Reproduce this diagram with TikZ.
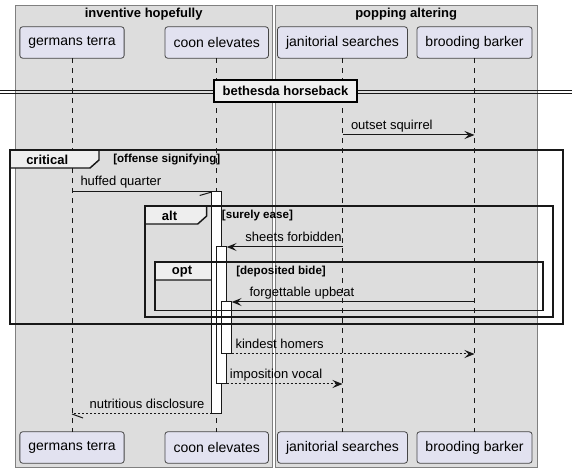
\documentclass[tikz,border=0pt]{standalone}
\usepackage{fontspec}
\setmainfont{Liberation Sans}
\usetikzlibrary{arrows.meta}
\definecolor{boxgray}{HTML}{DDDDDD}
\definecolor{partfill}{HTML}{E2E2F0}
\definecolor{tabfill}{HTML}{EEEEEE}
\definecolor{ink}{HTML}{181818}

\begin{document}
\begin{tikzpicture}[x=0.75pt, y=-0.75pt,
    grp/.style={draw=gray, fill=boxgray, line width=0.6pt},
    title/.style={inner sep=0pt, font=\bfseries\fontsize{9.75}{11}\selectfont},
    part/.style={draw=gray!55!black, fill=partfill, rounded corners=2pt, line width=0.6pt,
      minimum height=23.5pt, inner xsep=6.4pt, outer sep=0pt, font=\fontsize{10.5}{12}\selectfont},
    life/.style={draw=ink, line width=0.45pt, dash pattern=on 3.75pt off 3.75pt},
    msg/.style={draw=ink, line width=0.75pt},
    ret/.style={msg, dash pattern=on 1.5pt off 1.5pt},
    head/.style={-{Stealth[length=7.5pt, width=6pt, inset=3pt]}},
    act/.style={draw=ink, fill=white, line width=0.75pt, minimum width=7.5pt,
      inner sep=0pt, outer sep=0pt, anchor=north},
    lbl/.style={inner sep=0pt, anchor=base west, font=\fontsize{9.75}{11}\selectfont},
    frm/.style={draw=ink, line width=1.1pt},
    tab/.style={draw=ink, fill=tabfill, line width=1.1pt},
    kind/.style={inner sep=0pt, anchor=west, font=\bfseries\fontsize{9.75}{11}\selectfont},
    guard/.style={inner sep=0pt, anchor=west, font=\bfseries\fontsize{8.7}{10}\selectfont}]
  \useasboundingbox (0,0) rectangle (578,473);

  % boxes
  \draw[grp] (15.5,5.5) rectangle (272,467.5);
  \draw[grp] (275.5,5.5) rectangle (537,467.5);
  \node[title] (ttlInv) at (143.7,14.5) {inventive hopefully};
  \node[title] (ttlPop) at (406.2,14.5) {popping altering};

  % participants
  \node[part] (gtTop) at (72,42.5) {germans terra};
  \node[part] (ceTop) at (216.7,42.5) {coon elevates};
  \node[part] (jsTop) at (342.5,42.5) {janitorial searches};
  \node[part] (bbTop) at (474.5,42.5) {brooding barker};
  \node[part] (gtBot) at (72,447.5) {germans terra};
  \node[part] (ceBot) at (216.7,447.5) {coon elevates};
  \node[part] (jsBot) at (342.5,447.5) {janitorial searches};
  \node[part] (bbBot) at (474.5,447.5) {brooding barker};
  \foreach \p in {gt,ce,js,bb}
    \draw[life] (\p Top.south) -- (\p Bot.north);

  % divider
  \draw[ink, line width=0.75pt] (0,90.7) -- (572,90.7) (0,94) -- (572,94);
  \node[draw=black, line width=1.5pt, fill=tabfill, minimum width=107.3pt, minimum height=16.9pt,
    inner sep=0pt, font=\bfseries\fontsize{9.75}{11}\selectfont] (div) at (285.5,90.8) {bethesda horseback};

  % frame tabs
  \draw[tab] (10,150) -- (99,150) -- (99,160) -- (90,168) -- (10,168) -- cycle;
  \node[kind] (kCrit) at (26,159.5) {critical};
  \node[guard] (gCrit) at (113,159.5) {[offense signifying]};
  \draw[tab] (145,206) -- (206.7,206) -- (206.7,216) -- (197.7,224) -- (145,224) -- cycle;
  \node[kind] (kAlt) at (161.7,215.5) {alt};
  \node[guard] (gAlt) at (221.7,215.5) {[surely ease]};
  \draw[tab] (155,262) -- (221,262) -- (221,272) -- (212,280) -- (155,280) -- cycle;
  \node[kind] (kOpt) at (171.7,271.3) {opt};
  \node[guard] (gOpt) at (236,271.3) {[deposited bide]};

  % activations
  \node[act, minimum height=166.5pt] (act1) at (216.7,192) {};
  \node[act, minimum height=102.75pt] (act2) at (221.7,247) {};
  \node[act, minimum height=39pt] (act3) at (226.7,302) {};

  % messages
  \draw[msg, head] (jsTop |- 0,135) -- (bbTop |- 0,135)
    node[lbl, pos=0, xshift=6pt, yshift=3.75pt] (mOutset) {outset squirrel};
  \draw[msg] (gtTop |- act1.north) -- (act1.north west)
    node[lbl, pos=0, xshift=6pt, yshift=4.5pt] (mHuffed) {huffed quarter};
  \draw[msg] (act1.north west) -- ++(-12,3.5);
  \draw[msg, head] (jsTop |- act2.north) -- (act2.north east)
    node[lbl, pos=1, xshift=13.7pt, yshift=3.75pt] (mSheets) {sheets forbidden};
  \draw[msg, head] (bbTop |- act3.north) -- (act3.north east)
    node[lbl, pos=1, xshift=13pt, yshift=3.75pt] (mForget) {forgettable upbeat};
  \draw[ret, head] (act3.south east) -- (bbTop |- act3.south)
    node[lbl, pos=0, xshift=2.5pt, yshift=3.75pt] (mKind) {kindest homers};
  \draw[ret, head] (act2.south east) -- (jsTop |- act2.south)
    node[lbl, pos=0, xshift=2pt, yshift=3.75pt] (mImpos) {imposition vocal};
  \draw[ret] (act1.south west) -- (gtTop |- act1.south) coordinate (nd)
    node[lbl, pos=1, xshift=12.8pt, yshift=3.75pt] (mNutri) {nutritious disclosure};
  \draw[msg] (nd) -- ++(11,4);

  % frames
  \draw[frm] (10,150) rectangle (563,324);
  \draw[frm] (145,206) rectangle (553,317);
  \draw[frm] (155,262) rectangle (543,310.7);
\end{tikzpicture}
\end{document}
